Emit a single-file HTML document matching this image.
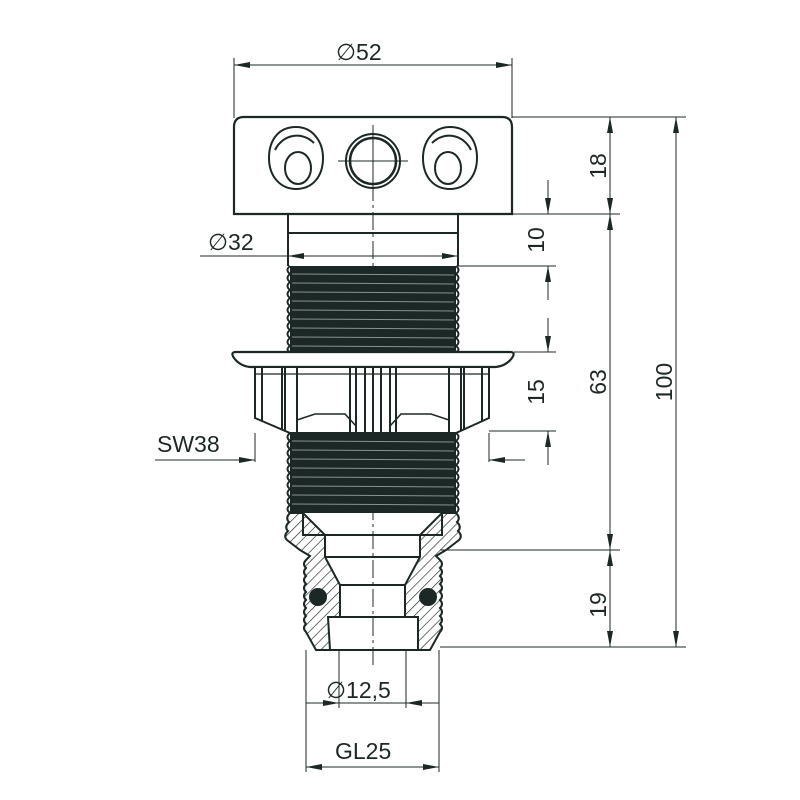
<!DOCTYPE html>
<html><head><style>html,body{margin:0;padding:0;background:#fff}svg{display:block}</style></head>
<body>
<svg width="800" height="800" viewBox="0 0 800 800" xmlns="http://www.w3.org/2000/svg" font-family="Liberation Sans, sans-serif">
<defs>
<marker id="a" viewBox="0 0 16 6" refX="16" refY="3" markerWidth="16" markerHeight="6" markerUnits="userSpaceOnUse" orient="auto-start-reverse"><path d="M0,0L16,3L0,6z" fill="#1c2826"/></marker>
<pattern id="h" width="7" height="7" patternUnits="userSpaceOnUse" patternTransform="rotate(45)"><line x1="0" y1="0" x2="0" y2="7" stroke="#1c2826" stroke-width="1.3"/></pattern>
</defs>
<g stroke="#1c2826" fill="none">
<g stroke-width="1">
<line x1="234" y1="58" x2="234" y2="118"/><line x1="512" y1="58" x2="512" y2="118"/>
<line x1="512" y1="117" x2="686" y2="117"/>
<line x1="460" y1="214" x2="620" y2="214"/>
<line x1="458" y1="266" x2="556" y2="266"/>
<line x1="514" y1="352" x2="556" y2="352"/>
<line x1="489" y1="431" x2="556" y2="431"/>
<line x1="440" y1="550" x2="620" y2="550"/>
<line x1="440" y1="647" x2="686" y2="647"/>
<line x1="255" y1="433" x2="255" y2="462"/><line x1="489" y1="433" x2="489" y2="462"/>
<line x1="306" y1="650" x2="306" y2="772"/><line x1="439" y1="650" x2="439" y2="772"/>
<line x1="339" y1="650" x2="339" y2="708"/><line x1="406" y1="650" x2="406" y2="708"/>
</g>
<g stroke-width="1">
<line x1="234" y1="65" x2="512" y2="65" marker-start="url(#a)" marker-end="url(#a)"/>
<line x1="200" y1="256" x2="288" y2="256"/>
<line x1="288" y1="256" x2="458" y2="256" marker-start="url(#a)" marker-end="url(#a)"/>
<line x1="610" y1="117" x2="610" y2="214" marker-start="url(#a)" marker-end="url(#a)"/>
<line x1="610" y1="214" x2="610" y2="550" marker-start="url(#a)" marker-end="url(#a)"/>
<line x1="610" y1="550" x2="610" y2="647" marker-start="url(#a)" marker-end="url(#a)"/>
<line x1="676" y1="117" x2="676" y2="647" marker-start="url(#a)" marker-end="url(#a)"/>
<line x1="548" y1="180" x2="548" y2="214" marker-end="url(#a)"/>
<line x1="548" y1="300" x2="548" y2="266" marker-end="url(#a)"/>
<line x1="548" y1="318" x2="548" y2="352" marker-end="url(#a)"/>
<line x1="548" y1="465" x2="548" y2="431" marker-end="url(#a)"/>
<line x1="155" y1="460" x2="255" y2="460" marker-end="url(#a)"/>
<line x1="525" y1="460" x2="489" y2="460" marker-end="url(#a)"/>
<line x1="306" y1="703" x2="339" y2="703" marker-end="url(#a)"/>
<line x1="439" y1="703" x2="406" y2="703" marker-end="url(#a)"/>
<line x1="339" y1="703" x2="406" y2="703"/>
<line x1="306" y1="767" x2="439" y2="767" marker-start="url(#a)" marker-end="url(#a)"/>
</g>
<line x1="373" y1="125" x2="373" y2="665" stroke-width="1" stroke-dasharray="18,4,3,4"/>
<path d="M244,117H502Q512,117 512,127V214H234V127Q234,117 244,117Z" stroke-width="2.2"/>
<path d="M296,127C277,127 269,142 269,158C269,177 281,189 296,189C312,189 323,177 323,158C323,142 313,127 296,127Z" stroke-width="2"/>
<path d="M275,150C283,134 302,131 314,143" stroke-width="2"/>
<ellipse cx="298" cy="168" rx="13" ry="16" stroke-width="2"/>
<path d="M450,127C433,127 423,142 423,158C423,177 434,189 450,189C465,189 477,177 477,158C477,142 469,127 450,127Z" stroke-width="2"/>
<path d="M432,143C444,131 463,134 471,150" stroke-width="2"/>
<ellipse cx="448" cy="168" rx="13" ry="16" stroke-width="2"/>
<circle cx="373" cy="161" r="27" stroke-width="2"/>
<circle cx="373" cy="161" r="23" stroke-width="2.5"/>
<line x1="338" y1="161" x2="408" y2="161" stroke-width="1"/>
<line x1="373" y1="128" x2="373" y2="194" stroke-width="1"/>
<path d="M288,214V266M458,214V266M288,233H458" stroke-width="2"/>
<rect x="290" y="266" width="166" height="86" fill="#1c2826" stroke="none"/>
<g stroke="#8a918f" stroke-width="1">
<line x1="292" y1="274" x2="454" y2="275"/><line x1="292" y1="283" x2="454" y2="284"/><line x1="292" y1="292" x2="454" y2="293"/><line x1="292" y1="301" x2="454" y2="302"/><line x1="292" y1="310" x2="454" y2="311"/><line x1="292" y1="319" x2="454" y2="320"/><line x1="292" y1="328" x2="454" y2="329"/><line x1="292" y1="337" x2="454" y2="338"/><line x1="292" y1="346" x2="454" y2="347"/>
</g>
<path d="M290,266 q-5,4 0,8 q-5,4 0,8 q-5,4 0,8 q-5,4 0,8 q-5,4 0,8 q-5,4 0,8 q-5,4 0,8 q-5,4 0,8 q-5,4 0,8 q-5,4 0,8 q-5,4 0,6 M456,266 q5,4 0,8 q5,4 0,8 q5,4 0,8 q5,4 0,8 q5,4 0,8 q5,4 0,8 q5,4 0,8 q5,4 0,8 q5,4 0,8 q5,4 0,8 q5,4 0,6" stroke-width="2"/>
<path d="M236,352H510Q516,352 512,358Q506,366 496,367H250Q240,366 234,358Q230,352 236,352Z" stroke-width="2.2" fill="#fff"/>
<path d="M255,367V418L290,433H456L489,418V367Z" stroke-width="2" fill="#fff"/>
<g stroke-width="2">
<line x1="262" y1="367" x2="262" y2="421"/><line x1="282" y1="367" x2="282" y2="430"/><line x1="285" y1="367" x2="285" y2="431"/><line x1="297" y1="367" x2="297" y2="433"/>
<line x1="350" y1="367" x2="350" y2="433"/><line x1="356" y1="367" x2="356" y2="433"/><line x1="365" y1="367" x2="365" y2="433"/><line x1="373" y1="367" x2="373" y2="433"/><line x1="381" y1="367" x2="381" y2="433"/><line x1="390" y1="367" x2="390" y2="433"/><line x1="396" y1="367" x2="396" y2="433"/>
<line x1="449" y1="367" x2="449" y2="433"/><line x1="461" y1="367" x2="461" y2="431"/><line x1="464" y1="367" x2="464" y2="430"/><line x1="482" y1="367" x2="482" y2="421"/>
<path d="M297,420L315,414H345L356,426M390,426L401,414H431L449,420" stroke-width="1.6"/>
<line x1="255" y1="374" x2="489" y2="374" stroke-width="1.2"/>
</g>
<rect x="290" y="433" width="166" height="80" fill="#1c2826" stroke="none"/>
<g stroke="#8a918f" stroke-width="1">
<line x1="292" y1="441" x2="454" y2="442"/><line x1="292" y1="450" x2="454" y2="451"/><line x1="292" y1="459" x2="454" y2="460"/><line x1="292" y1="468" x2="454" y2="469"/><line x1="292" y1="477" x2="454" y2="478"/><line x1="292" y1="486" x2="454" y2="487"/><line x1="292" y1="495" x2="454" y2="496"/><line x1="292" y1="504" x2="454" y2="505"/>
</g>
<path d="M290,433 q-5,4 0,8 q-5,4 0,8 q-5,4 0,8 q-5,4 0,8 q-5,4 0,8 q-5,4 0,8 q-5,4 0,8 q-5,4 0,8 q-5,4 0,8 q-5,4 0,8 M456,433 q5,4 0,8 q5,4 0,8 q5,4 0,8 q5,4 0,8 q5,4 0,8 q5,4 0,8 q5,4 0,8 q5,4 0,8 q5,4 0,8 q5,4 0,8" stroke-width="2"/>
<path d="M290,513 q-5,5 -1,9 q-5,5 -1,9 q-5,5 -1,9 L300,550 L310,556 L306,560 q-4,4 0,8 q-4,4 0,8 q-4,4 0,8 q-4,4 0,8 q-4,4 0,8 q-4,4 0,8 q-4,4 0,8 q-4,4 0,8 q-4,4 0,8 L316,650 H330 L328,617 H340 V585 L325,557 V535 L303,513 Z" fill="url(#h)" stroke-width="2"/>
<path d="M456,513 q5,5 1,9 q5,5 1,9 q5,5 1,9 L446,550 L436,556 L440,560 q4,4 0,8 q4,4 0,8 q4,4 0,8 q4,4 0,8 q4,4 0,8 q4,4 0,8 q4,4 0,8 q4,4 0,8 q4,4 0,8 L430,650 H418 L418,617 H405 V585 L420,557 V535 L442,513 Z" fill="url(#h)" stroke-width="2"/>
<path d="M303,513V535H442V513M325,557H420M340,585H405M328,617H418M330,650H418" stroke-width="2"/>
<circle cx="318" cy="597" r="9" fill="#1c2826" stroke="none"/>
<circle cx="428" cy="597" r="9" fill="#1c2826" stroke="none"/>
</g>
<g fill="#1c2826" font-size="23">
<text x="336" y="60">∅52</text>
<text x="208" y="250">∅32</text>
<text x="157" y="452">SW38</text>
<text x="326" y="698">∅12,5</text>
<text x="335" y="759">GL25</text>
<text transform="translate(606,166) rotate(-90)" text-anchor="middle">18</text>
<text transform="translate(544,240) rotate(-90)" text-anchor="middle">10</text>
<text transform="translate(544,392) rotate(-90)" text-anchor="middle">15</text>
<text transform="translate(606,382) rotate(-90)" text-anchor="middle">63</text>
<text transform="translate(672,382) rotate(-90)" text-anchor="middle">100</text>
<text transform="translate(606,605) rotate(-90)" text-anchor="middle">19</text>
</g>
</svg>
</body></html>
